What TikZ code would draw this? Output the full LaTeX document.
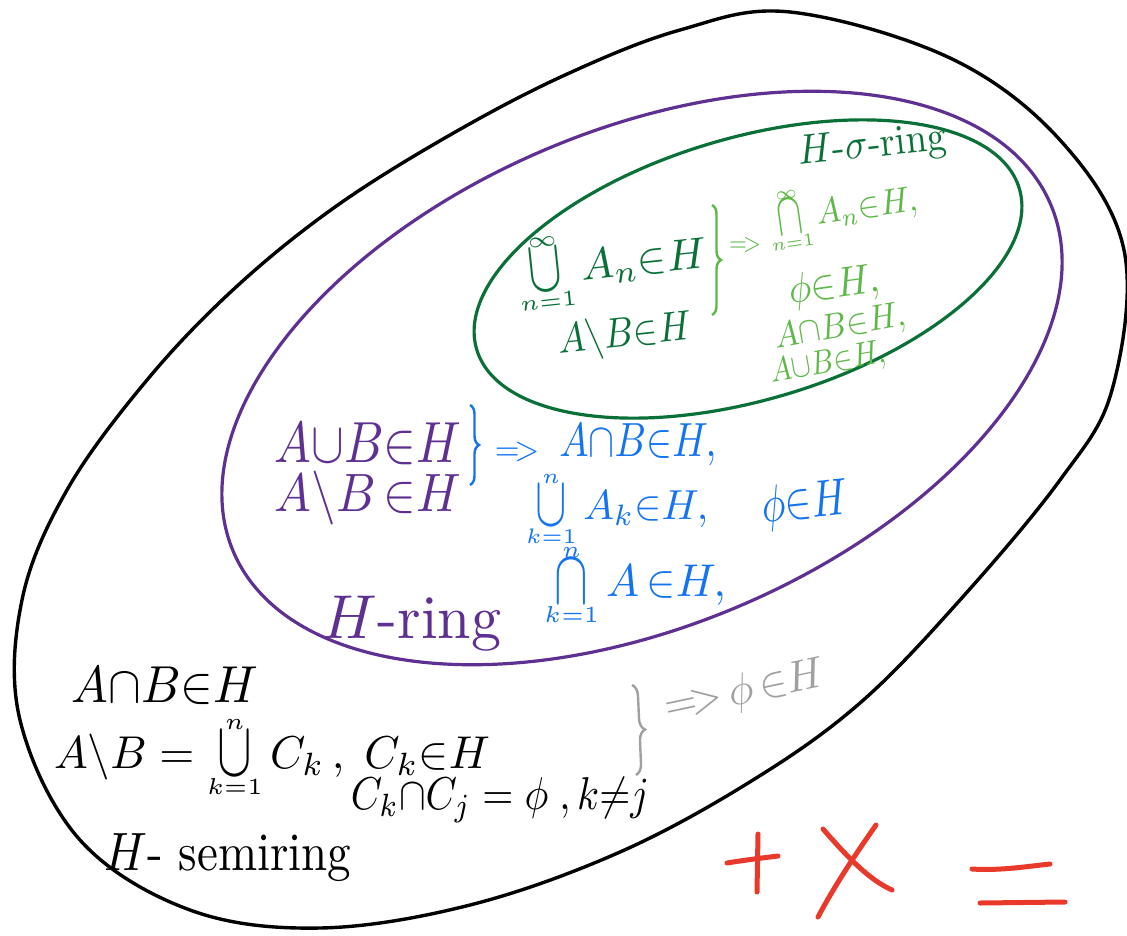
\documentclass[tikz,border=0pt]{standalone}
\usepackage{amsmath}
\usepackage{graphicx}
\usetikzlibrary{shapes.geometric,decorations.pathreplacing}
\definecolor{dgreen}{RGB}{10,112,56}
\definecolor{lgreen}{RGB}{94,184,72}
\definecolor{rpurple}{RGB}{94,48,145}
\definecolor{bblue}{RGB}{20,115,240}
\definecolor{ggray}{RGB}{160,160,160}
\definecolor{rred}{RGB}{232,57,42}
\newcommand\mysc[3]{\scalebox{#1}[#2]{#3}}
\newcommand\impl{{=}\!{>}}
\newcommand\opl[3]{\mathop{\vcenter{\offinterlineskip\halign{\hfil##\hfil\cr
  $\scriptscriptstyle#3$\cr\noalign{\kern0.5pt}
  \scalebox{1.15}[1.7]{$#1$}\cr\noalign{\kern0.8pt}
  $\scriptscriptstyle#2$\cr}}}}
\begin{document}
\begin{tikzpicture}[x=1pt,y=-1pt,
  oval/.style={draw, ellipse, inner sep=0pt, line width=3.2pt},
  lbl/.style={inner sep=0pt, anchor=center, font=\fontsize{10}{12}\selectfont},
  bracestyle/.style={decorate, decoration={brace, amplitude=9pt}, line width=2.4pt},
  redstroke/.style={draw=rred, line width=5pt, line cap=round}]
\useasboundingbox[fill=white] (0,0) rectangle (1127,935);
% outer (semiring) outline, hand drawn egg shape
\draw[line width=3.4pt, line join=round] plot[smooth cycle, tension=0.6] coordinates {
  (790,12) (950,58) (1060,140) (1124,250) (1112,390) (1060,480) (960,600)
  (860,703) (753,780) (620,852) (470,905) (320,928) (190,910) (80,840)
  (20,720) (22,600) (67,490) (147,380) (235,288) (335,207) (450,135)
  (565,75) (680,30)};
\coordinate (semiring) at (570,470);
% ring and sigma-ring
\node[oval, draw=rpurple, minimum width=888pt, minimum height=496pt, rotate=23] (ring) at (642,378) {};
\node[oval, draw=dgreen, minimum width=566pt, minimum height=262pt, rotate=16.5] (sigmaring) at (748,269) {};
% sigma-ring texts
\node[lbl, text=dgreen, rotate=6] (sname) at (872,147) {\mysc{3.8}{4.2}{$H$-$\sigma$-ring}};
\node[lbl, text=dgreen, rotate=6] (s1) at (612,266) {\mysc{4.4}{4.4}{$\opl{\cup}{n=1}{\infty}A_n{\in}H$}};
\node[lbl, text=dgreen, rotate=6] (s2) at (625,336) {\mysc{3.7}{4.2}{$A{\setminus}B{\in}H$}};
\draw[bracestyle, draw=lgreen] (712,205) -- (712,315);
\node[lbl, text=lgreen] (sarrow) at (745,245) {\mysc{2.3}{2.6}{$\impl$}};
\node[lbl, text=lgreen, rotate=8] (s3) at (843,212) {\mysc{3.3}{3.6}{$\opl{\cap}{n=1}{\infty}A_n{\in}H,$}};
\node[lbl, text=lgreen, rotate=8] (s4) at (834,287) {\mysc{3.8}{4.2}{$\phi{\in}H,$}};
\node[lbl, text=lgreen, rotate=10] (s5) at (840,328) {\mysc{3.3}{3.6}{$A{\cap}B{\in}H,$}};
\node[lbl, text=lgreen, rotate=10] (s6) at (828,364) {\mysc{2.9}{3.4}{$A{\cup}B{\in}H,$}};
% ring texts
\node[lbl, text=rpurple] (r1) at (368,444) {\mysc{4.9}{5.8}{$A{\cup}B{\in}H$}};
\node[lbl, text=rpurple] (r2) at (368,498) {\mysc{4.9}{5.4}{$A{\setminus}B\,{\in}H$}};
\draw[bracestyle, draw=bblue] (470,405) -- (470,485);
\node[lbl, text=bblue] (rarrow) at (517,452) {\mysc{3.2}{3.4}{$\impl$}};
\node[lbl, text=bblue] (r3) at (638,445) {\mysc{3.9}{4.8}{$A{\cap}B{\in}H,$}};
\node[lbl, text=bblue] (r4) at (617,509) {\mysc{4.1}{4.2}{$\opl{\cup}{k=1}{n}A_k{\in}H,$}};
\node[lbl, text=bblue] (r5) at (635,585) {\mysc{4.4}{4.6}{$\opl{\cap}{k=1}{n}A\,{\in}H,$}};
\node[lbl, text=bblue, rotate=6] (r6) at (805,505) {\mysc{4.0}{5.2}{$\phi{\in}H$}};
\node[lbl, text=rpurple] (rname) at (412,624) {\mysc{6.0}{6.2}{$H$-ring}};
% semiring texts
\node[lbl, text=black] (m1) at (165,686) {\mysc{4.9}{5.2}{$A{\cap}B{\in}H$}};
\node[lbl, text=black] (m2) at (272,757) {\mysc{4.5}{4.6}{$A{\setminus}B=\opl{\cup}{k=1}{n}C_k\,,\;C_k{\in}H$}};
\node[lbl, text=black] (m3) at (500,800) {\mysc{4.0}{4.6}{$C_k{\cap}C_j=\phi\;,k{\neq}j$}};
\draw[bracestyle, draw=ggray, decoration={brace, amplitude=11pt}] (632,685) -- (636,775);
\node[lbl, text=ggray, rotate=12] (m4) at (745,692) {\mysc{4.2}{4.4}{$\impl\,\phi\,{\in}H$}};
\node[lbl, text=black] (mname) at (228,858) {\mysc{4.7}{5.4}{$H$- semiring}};
% red marks
\draw[redstroke] (727,863) .. controls (745,860) and (762,858) .. (778,856);
\draw[redstroke] (758,834) -- (757,892);
\draw[redstroke] (823,829) .. controls (850,860) and (870,880) .. (892,890);
\draw[redstroke] (876,825) .. controls (855,855) and (835,885) .. (818,917);
\draw[redstroke] (972,869) .. controls (1000,871) and (1030,866) .. (1050,864);
\draw[redstroke] (980,903) -- (1065,902);
\end{tikzpicture}
\end{document}
